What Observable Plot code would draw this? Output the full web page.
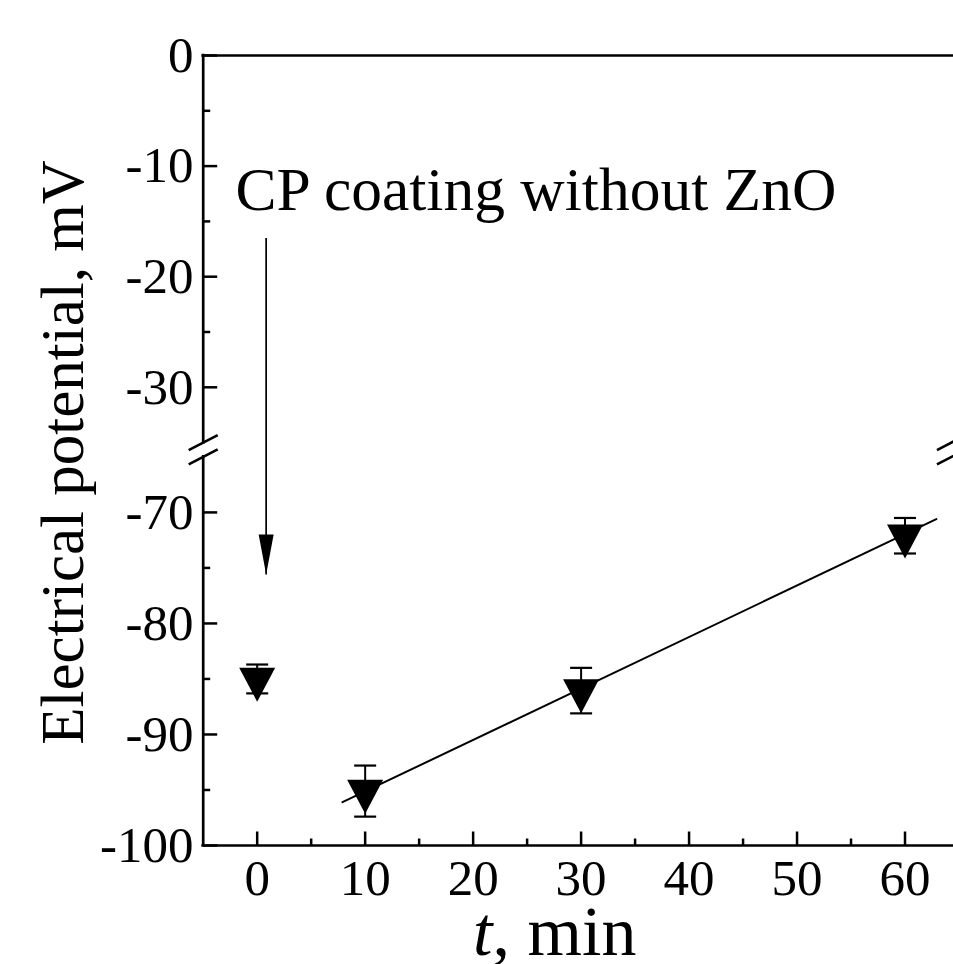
<!DOCTYPE html>
<html><head><meta charset="utf-8">
<script src="https://cdn.jsdelivr.net/npm/d3@7"></script>
<script src="https://cdn.jsdelivr.net/npm/@observablehq/plot@0.6"></script>
<style>html,body{margin:0;padding:0;background:#fff;overflow:hidden} svg{display:block}</style>
</head><body><div id="chart"></div>
<script>
// ---- data ----
const times = [0, 10, 30, 60];
const potentials = [-85.0, -95.1, -86.05, -72.1];
const errors = [1.3, 2.3, 2.05, 1.6];
const fitTimes = [7.9, 62.9];
const fitPotentials = [-96.1, -70.6];
const xTicksMajor = [0, 10, 20, 30, 40, 50, 60];
const xTicksMinor = [5, 15, 25, 35, 45, 55];
const yTicksMajor = [0, -10, -20, -30, -70, -80, -90, -100];
const yTicksMinor = [-5, -15, -25, -75, -85, -95];
const yDomain = [-100, -65, -35, 0];   // broken axis: [-100,-65] and [-35,0]
const xDomain = [-5, 65];
const breakTimes = [-5, 64.3];
const breakPotentials = [-35, -65];
const annotationText = "CP coating without ZnO";
const annotationT = -2.0, annotationV = -12.2;
const arrowT = 0.83, arrowFrom = -16.5, arrowTo = -75.6;
const xLabelItalic = "t", xLabelRest = ", min";
const yLabel = "Electrical potential, mV";

// ---- custom symbols ----
const sym = f => ({draw: f});
const triDown = sym(c => { c.moveTo(-18, -11.3); c.lineTo(18, -11.3); c.lineTo(0, 22.7); c.closePath(); });
const cap = sym(c => { c.moveTo(-11, 0); c.lineTo(11, 0); });
const tickUp = len => sym(c => { c.moveTo(0, 0); c.lineTo(0, -len); });
const tickRight = len => sym(c => { c.moveTo(0, 0); c.lineTo(len, 0); });
const slash = sym(c => { c.moveTo(-14.5, 7.5); c.lineTo(14.5, -7.5); });
const arrowHead = sym(c => { c.moveTo(0, 0); c.lineTo(-7.5, -40); c.lineTo(7.5, -40); c.closePath(); });

const points = times.map((t, i) => ({t, v: potentials[i], lo: potentials[i] - errors[i], hi: potentials[i] + errors[i]}));
const breaks = breakTimes.flatMap(t => breakPotentials.map(v => ({t, v})));
const axisSegments = [{a: yDomain[3], b: yDomain[2]}, {a: yDomain[1], b: yDomain[0]}];
const fmt = d => `${d}`;
const AX = 2.7;

const plot = Plot.plot({
  width: 953, height: 964,
  marginLeft: 203, marginTop: 55, marginBottom: 119, marginRight: 0,
  x: {type: "linear", domain: xDomain, range: [202.7, 958.5]},
  y: {type: "linear", domain: yDomain, range: [845, 456.4, 442.1, 55]},
  style: {fontFamily: "'Liberation Serif', 'Times New Roman', serif", color: "black", background: "white", overflow: "hidden"},
  marks: [
    // frame
    Plot.ruleY([yDomain[3], yDomain[0]], {x1: xDomain[0], x2: xDomain[1], stroke: "black", strokeWidth: AX, strokeLinecap: "square"}),
    Plot.ruleX(axisSegments, {x: xDomain[0], y1: "a", y2: "b", stroke: "black", strokeWidth: AX, strokeLinecap: "square"}),
    Plot.dot(breaks, {x: "t", y: "v", symbol: slash, fill: "none", stroke: "black", strokeWidth: 2.6}),
    // inward ticks
    Plot.dot(xTicksMajor, {x: d => d, y: yDomain[0], symbol: tickUp(14), fill: "none", stroke: "black", strokeWidth: 2.5}),
    Plot.dot(xTicksMinor, {x: d => d, y: yDomain[0], symbol: tickUp(7), fill: "none", stroke: "black", strokeWidth: 2.5}),
    Plot.dot(yTicksMajor, {x: xDomain[0], y: d => d, symbol: tickRight(14), fill: "none", stroke: "black", strokeWidth: 2.5}),
    Plot.dot(yTicksMinor, {x: xDomain[0], y: d => d, symbol: tickRight(7), fill: "none", stroke: "black", strokeWidth: 2.5}),
    // tick labels
    Plot.axisX({ticks: xTicksMajor, tickSize: 0, tickPadding: 13, fontSize: 51, tickFormat: fmt, label: null}),
    Plot.axisY({ticks: yTicksMajor, tickSize: 0, tickPadding: 10, fontSize: 51, tickFormat: fmt, label: null}),
    // axis labels
    Plot.text([yLabel], {text: d => d, frameAnchor: "left", textAnchor: "middle", lineAnchor: "middle", dx: -140, dy: 2, rotate: -90, fontSize: 61, fill: "black"}),
    Plot.text([xLabelItalic], {text: d => d, frameAnchor: "bottom", lineAnchor: "bottom", dx: -86, dy: 109, textAnchor: "end", fontStyle: "italic", fontSize: 70, fill: "black"}),
    Plot.text([xLabelRest], {text: d => d, frameAnchor: "bottom", lineAnchor: "bottom", dx: -86, dy: 109, textAnchor: "start", fontSize: 70, fill: "black"}),
    // annotation with arrow
    Plot.text([annotationText], {text: d => d, x: annotationT, y: annotationV, textAnchor: "start", lineAnchor: "middle", fontSize: 61.5, fill: "black"}),
    Plot.link([0], {x1: arrowT, x2: arrowT, y1: arrowFrom, y2: arrowTo, stroke: "black", strokeWidth: 1.7}),
    Plot.dot([0], {x: arrowT, y: arrowTo, symbol: arrowHead, fill: "black", stroke: "none"}),
    // linear fit
    Plot.line(fitTimes.map((t, i) => ({t, v: fitPotentials[i]})), {x: "t", y: "v", stroke: "black", strokeWidth: 2}),
    // error bars and symbols
    Plot.ruleX(points, {x: "t", y1: "lo", y2: "hi", stroke: "black", strokeWidth: 2}),
    Plot.dot(points, {x: "t", y: "v", symbol: triDown, fill: "black", stroke: "none"}),
    Plot.dot(points.flatMap(p => [{t: p.t, v: p.lo}, {t: p.t, v: p.hi}]), {x: "t", y: "v", symbol: cap, fill: "none", stroke: "black", strokeWidth: 2.2})
  ]
});
document.getElementById("chart").appendChild(plot);
</script>
</body></html>
